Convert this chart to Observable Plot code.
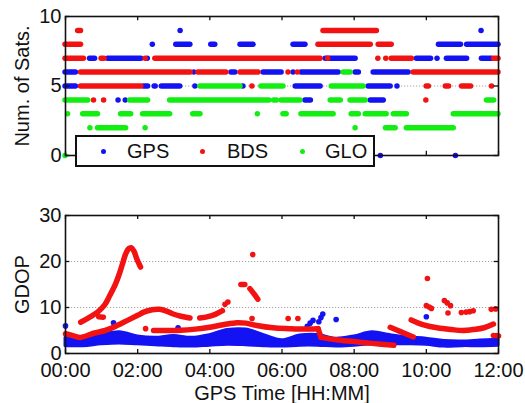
<!DOCTYPE html>
<html><head><meta charset="utf-8">
<script src="https://cdn.jsdelivr.net/npm/d3@7"></script>
<script src="https://cdn.jsdelivr.net/npm/@observablehq/plot@0.6"></script>
<style>
body{margin:0;background:#fff}
#wrap{position:relative;width:525px;height:403px;font-family:"Liberation Sans",Arial,sans-serif;color:#111}
#topChart,#botChart{position:absolute;left:0}
#topChart{top:0}#botChart{top:190px}
#legend{position:absolute;left:75px;top:135px;width:296px;height:28px;border:2px solid #111;background:#fff}
#legend .d{position:absolute;top:12px;width:5px;height:5px;border-radius:50%}
#legend .t{position:absolute;top:0;line-height:28px;font-size:20px}
</style></head>
<body><div id="wrap"><div id="topChart"></div><div id="botChart"></div>
<div id="legend"></div></div>
<script>
// ---------- data ----------
const xTicks = [0, 2, 4, 6, 8, 10, 12];
const satTicks = [0, 5, 10];
const gdopTicks = [0, 10, 20, 30];
const seriesNames = ["GPS", "BDS", "GLO"];
const colors = ["#1212f2", "#f21212", "#12ee12"];

// number of satellites: runs [startHour, endHour, count]
const gpsRuns = [
  [3.19,3.19,9],[11.53,11.53,9],
  [2.42,2.42,8],[3.07,3.46,8],[4.04,4.15,8],[4.85,5.21,8],[6.32,6.65,8],[10.35,10.96,8],[11.13,12.0,8],
  [0.68,0.82,7],[1.18,2.1,7],[2.28,2.28,7],[7.21,8.04,7],[9.74,10.13,7],[10.31,10.31,7],[10.57,11.13,7],[11.54,11.82,7],
  [0,0.29,6],[3.57,3.57,6],[4.6,4.71,6],[5.49,5.99,6],[6.32,6.32,6],[6.54,7.57,6],[8.04,8.13,6],[8.54,9.51,6],
  [0,0.29,5],[2.17,2.29,5],[2.47,2.5,5],[2.67,3.18,5],[3.6,3.6,5],[4.93,4.93,5],[6.38,7.07,5],[8.4,9.01,5],[9.2,9.2,5],
  [1.47,1.47,4],[1.67,1.67,4],[6.65,6.8,4],[8.46,8.82,4],
  [8.74,8.74,0],[10.82,10.82,0]
];
const bdsRuns = [
  [0.35,0.43,9],[7.15,8.63,9],
  [0,0.43,8],[7.01,8.46,8],[8.68,9.04,8],
  [0,0.51,7],[1.0,1.08,7],[2.22,2.22,7],[2.49,7.07,7],[7.28,7.28,7],[8.67,8.67,7],[8.89,8.89,7],[9.04,9.6,7],[11.88,12.0,7],
  [0.43,3.47,6],[3.68,4.46,6],[4.85,5.35,6],[6.18,6.18,6],[6.44,6.44,6],[9.65,12.0,6],
  [0.43,2.1,5],[5.18,5.18,5],[10.01,10.07,5],[10.54,10.63,5],[10.99,11.24,5],[11.82,11.82,5],
  [0.79,0.79,4],[1.07,1.07,4],[10.0,10.0,4]
];
const gloRuns = [
  [7.71,7.9,6],
  [3.74,4.85,5],[5.43,6.04,5],[7.38,8.26,5],
  [0,0.63,4],[1.79,2.29,4],[2.9,5.65,4],[5.78,5.86,4],[5.99,6.51,4],[7.35,7.63,4],[7.9,8.32,4],[11.68,11.88,4],
  [0.07,0.07,3],[0.49,0.9,3],[1.54,1.82,3],[2.15,2.9,3],[3.54,3.74,3],[5.33,5.33,3],[6.04,6.13,3],[6.54,7.43,3],
  [7.93,8.13,3],[8.32,8.9,3],[9.1,9.46,3],[10.76,12.0,3],
  [0.69,0.69,2],[0.9,1.68,2],[2.22,2.22,2],[8.04,8.04,2],[8.88,9.15,2],[9.46,10.76,2],
  [0,0,0]
];

// GDOP — GPS band (hour, low, high) and scattered points
const gpsBandTime = [0,0.5,1,1.5,2,2.5,3,3.5,4,4.5,5,5.5,6,6.5,7,7.5,8,8.5,9,9.5,10,10.5,11,11.5,12];
const gpsBandLow  = [1.6,1.6,2.0,2.2,2.0,1.8,1.6,1.5,1.7,1.9,1.8,1.6,1.5,1.7,1.7,1.5,1.7,2.0,2.0,2.0,1.9,1.5,1.6,1.6,1.7];
const gpsBandHigh = [3.4,3.1,4.0,4.6,3.7,3.4,3.8,3.4,4.0,5.1,5.2,4.0,2.9,3.9,4.0,3.2,3.7,4.6,4.0,3.5,3.2,2.7,2.6,2.8,3.0];
const gpsGdopDots = [[0,6.0],[1.33,6.7],[3.12,5.6],[6.7,5.9],[6.78,6.6],[6.86,7.2],[7.02,6.9],[7.08,7.8],[7.13,8.6],[7.5,7.4],[10.0,8.0]];

// GDOP — BDS curves (hour, value)
const bdsArcA  = [[0.42,6.8],[0.65,7.8],[0.89,9.0],[1.08,10.5],[1.22,12.5],[1.39,15.2],[1.5,17.5],[1.58,19.5],[1.66,21.5],[1.75,22.8],[1.82,23.0],[1.9,22.2],[1.98,20.5],[2.08,18.8]];
const bdsArcA2 = [[0.92,8.0],[1.05,7.9]];
const bdsArcB  = [[0,4.3],[0.2,3.9],[0.42,3.5],[0.78,4.4],[1.1,5.0],[1.33,5.7],[1.72,7.2],[2.0,8.3],[2.17,9.0],[2.4,9.5],[2.6,9.6],[2.8,9.2],[2.95,8.7],[3.2,8.1],[3.45,7.7]];
const bdsArcB2 = [[3.72,7.7],[3.95,8.0],[4.15,8.5],[4.35,9.3]];
const bdsArcB3 = [[4.86,15.0],[4.97,15.0]];
const bdsArcB4 = [[5.11,14.1],[5.22,13.0],[5.33,11.8]];
const bdsArcC  = [[2.44,5.0],[2.8,5.0],[3.2,5.05],[3.6,5.3],[4.0,5.7],[4.4,6.3],[4.75,6.7],[5.0,6.6],[5.3,6.1],[5.75,5.6],[6.2,5.4],[6.6,5.3],[7.0,5.4]];
const bdsArcC2 = [[7.0,5.4],[7.08,3.5]];
const bdsArcC3 = [[7.08,3.5],[7.5,3.0],[8.0,2.6],[8.5,2.2],[9.1,1.8]];
const bdsArcD  = [[9.0,5.7],[9.3,4.7],[9.64,3.6]];
const bdsArcE  = [[9.58,7.3],[9.9,6.3],[10.3,5.6],[10.7,5.2],[11.0,5.0],[11.3,5.2],[11.6,5.6],[11.86,6.4]];
const bdsGdopDots = [[2.22,5.4],[4.42,10.7],[4.5,11.2],[5.19,21.5],[5.17,7.6],[6.17,7.6],[6.44,7.6],[10.03,16.3],
  [10.0,10.4],[10.08,10.1],[10.14,9.8],[10.5,11.5],[10.58,11.0],[10.67,10.4],[10.6,8.8],[10.97,8.9],[11.1,9.0],
  [11.2,9.1],[11.3,9.3],[11.8,9.6],[11.92,9.7],[11.86,3.9],[11.94,3.9],[12.0,3.8]];

// ---------- derived tables ----------
const bdsArcs = [bdsArcA,bdsArcA2,bdsArcB,bdsArcB2,bdsArcB3,bdsArcB4,bdsArcC,bdsArcC2,bdsArcC3,bdsArcD,bdsArcE];
const bdsLine = bdsArcs.flatMap((arc, i) => arc.map(([t, v]) => ({t, v, seg: i})));
const gpsBand = gpsBandTime.map((t, i) => ({t, lo: gpsBandLow[i], hi: gpsBandHigh[i]}));

const FONT = "Liberation Sans, Arial, Helvetica, sans-serif";
const INK = "#111";
const fmt = d => String(d).padStart(2, "0") + ":00";
const runMark = (runs, color) => Plot.ruleY(runs, {x1: d => d[0], x2: d => d[1], y: d => d[2],
  stroke: color, strokeWidth: 5.5, strokeLinecap: "round"});

// ---------- top: number of satellites ----------
const satChart = Plot.plot({
  width: 525, height: 190,
  marginLeft: 65, marginRight: 27, marginTop: 16, marginBottom: 35,
  style: {fontFamily: FONT, fontSize: "20px", color: INK, background: "transparent"},
  x: {domain: [0, 12], axis: null},
  y: {domain: [0, 10]},
  marks: [
    Plot.ruleY([5], {stroke: "#9a9a9a", strokeWidth: 0.9, strokeDasharray: "1.2,1.8"}),
    runMark(gpsRuns, colors[0]),
    runMark(bdsRuns, colors[1]),
    runMark(gloRuns, colors[2]),
    Plot.frame({stroke: INK, strokeWidth: 1.6}),
    Plot.ruleX(xTicks, {x: d => d, y1: 0, y2: 0.3, stroke: INK, strokeWidth: 1.3}),
    Plot.ruleX(xTicks, {x: d => d, y1: 10, y2: 9.7, stroke: INK, strokeWidth: 1.3}),
    Plot.ruleY(satTicks, {y: d => d, x1: 0, x2: 0.12, stroke: INK, strokeWidth: 1.3}),
    Plot.ruleY(satTicks, {y: d => d, x1: 12, x2: 11.88, stroke: INK, strokeWidth: 1.3}),
    Plot.axisY({ticks: satTicks, tickSize: 0, tickPadding: 4, fontSize: 20, label: null}),
    Plot.text(["Num. of Sats."], {text: d => d, frameAnchor: "left", textAnchor: "middle", rotate: -90, dx: -43, fontSize: 20, fill: INK})
  ]
});
document.getElementById("topChart").append(satChart);

// ---------- bottom: GDOP ----------
const gdopChart = Plot.plot({
  width: 525, height: 213,
  marginLeft: 65, marginRight: 27, marginTop: 25, marginBottom: 50,
  style: {fontFamily: FONT, fontSize: "20px", color: INK, background: "transparent"},
  x: {domain: [0, 12]},
  y: {domain: [0, 30]},
  marks: [
    Plot.ruleY([10, 20], {stroke: "#9a9a9a", strokeWidth: 0.9, strokeDasharray: "1.2,1.8"}),
    Plot.areaY(gpsBand, {x: "t", y1: "lo", y2: "hi", fill: colors[0], stroke: colors[0], strokeWidth: 3, strokeLinejoin: "round", curve: "catmull-rom"}),
    Plot.dot(gpsGdopDots, {x: d => d[0], y: d => d[1], r: 2.8, fill: colors[0]}),
    Plot.line(bdsLine, {x: "t", y: "v", z: "seg", stroke: colors[1], strokeWidth: 5.5,
      strokeLinecap: "round", strokeLinejoin: "round", curve: "catmull-rom"}),
    Plot.dot(bdsGdopDots, {x: d => d[0], y: d => d[1], r: 2.8, fill: colors[1]}),
    Plot.frame({stroke: INK, strokeWidth: 1.6}),
    Plot.ruleX(xTicks, {x: d => d, y1: 0, y2: 0.87, stroke: INK, strokeWidth: 1.3}),
    Plot.ruleX(xTicks, {x: d => d, y1: 30, y2: 29.13, stroke: INK, strokeWidth: 1.3}),
    Plot.ruleY(gdopTicks, {y: d => d, x1: 0, x2: 0.12, stroke: INK, strokeWidth: 1.3}),
    Plot.ruleY(gdopTicks, {y: d => d, x1: 12, x2: 11.88, stroke: INK, strokeWidth: 1.3}),
    Plot.axisY({ticks: gdopTicks, tickSize: 0, tickPadding: 4, fontSize: 20, label: null}),
    Plot.axisX({ticks: xTicks, tickFormat: fmt, tickSize: 0, tickPadding: 9, fontSize: 20, label: null}),
    Plot.text(["GDOP"], {text: d => d, frameAnchor: "left", textAnchor: "middle", rotate: -90, dx: -43, fontSize: 20, fill: INK}),
    Plot.text(["GPS Time [HH:MM]"], {text: d => d, frameAnchor: "bottom", dy: 46, fontSize: 20, fill: INK})
  ]
});
document.getElementById("botChart").append(gdopChart);

// ---------- legend ----------
const legend = document.getElementById("legend");
const dotX = [26, 125, 225], textX = [50, 150, 248];
seriesNames.forEach((name, i) => {
  const d = document.createElement("span");
  d.className = "d"; d.style.left = (dotX[i] - 2.5) + "px"; d.style.background = colors[i];
  const t = document.createElement("span");
  t.className = "t"; t.style.left = textX[i] + "px"; t.textContent = name;
  legend.append(d, t);
});
</script></body></html>
